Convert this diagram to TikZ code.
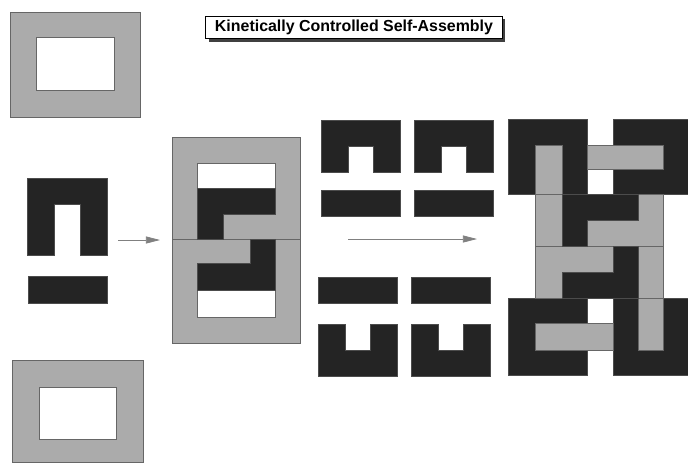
\documentclass[tikz,border=0pt]{standalone}
\usepackage{fontspec}
\newfontfamily\helv{Liberation Sans}
\usetikzlibrary{positioning}
\usetikzlibrary{arrows.meta}
\usetikzlibrary{shadows}

\tikzset{
  cinza/.style={fill=black!33, draw=black!60, line width=0.4pt},
  preto/.style={fill=black!86, draw=black!70, line width=0.3pt},
  seta/.style={draw=black!50, line width=0.6pt, -{Triangle[length=12pt,width=6pt]}},
}

\begin{document}
\begin{tikzpicture}[x=0.03cm, y=-0.03cm]
        \useasboundingbox (0,0) rectangle (688,463);

        % Título
        \node[draw, fill=white, line width=0.6pt, minimum width=8.9cm, minimum height=0.68cm, inner sep=0pt,
              drop shadow={shadow xshift=2.6pt, shadow yshift=-2.6pt, fill=black!75, opacity=1}] (titulo) at (354,27.5)
              {\helv\bfseries\fontsize{13.6}{15}\selectfont Kinetically Controlled Self-Assembly};

        % Molduras cinzas
        \foreach \a/\b/\c/\d/\e/\f/\g/\h in {10/12/140/117/36/37/114/90, 12/360/143/462/39/387/116/439}
        {
        \path[cinza, even odd rule] (\a,\b) rectangle (\c,\d) (\e,\f) rectangle (\g,\h);
        }

        % Peça em U e barra
        \path[preto] (27,178) -- (107,178) -- (107,255) -- (80,255) -- (80,204) -- (54,204) -- (54,255) -- (27,255) -- cycle;
        \path[preto] (28,276) rectangle (107,303);

        \coordinate (s1a) at (118,240);
        \coordinate (s1b) at (160,240);
        \draw[seta] (s1a) -- (s1b);

        % Montagem do meio
        \path[cinza, even odd rule] (172,137) rectangle (300,239) (197,163) rectangle (275,214);
        \path[cinza, even odd rule] (172,239) rectangle (300,343) (197,263) rectangle (275,317);
        \path[preto] (197,188) -- (275,188) -- (275,214) -- (223,214) -- (223,239) -- (197,239) -- cycle;
        \path[preto] (250,239) -- (275,239) -- (275,290) -- (197,290) -- (197,263) -- (250,263) -- cycle;

        % Peças soltas
        \foreach \x in {321,414}
        {
        \path[preto] (\x,120) -- ++(79,0) -- ++(0,52) -- ++(-27,0) -- ++(0,-26) -- ++(-25,0) -- ++(0,26) -- ++(-27,0) -- cycle;
        \path[preto] (\x,190) rectangle ++(79,26);
        }
        \foreach \x in {318,411}
        {
        \path[preto] (\x,277) rectangle ++(79,26);
        \path[preto] (\x,376) -- ++(79,0) -- ++(0,-52) -- ++(-27,0) -- ++(0,26) -- ++(-25,0) -- ++(0,-26) -- ++(-27,0) -- cycle;
        }

        \coordinate (s2a) at (348,239);
        \coordinate (s2b) at (477,239);
        \draw[seta] (s2a) -- (s2b);

        % Montagem final
        \foreach \x/\y/\w/\h in {508/119/79/75, 613/119/75/75, 508/298/79/77, 613/298/75/77}
        {
        \path[preto] (\x,\y) rectangle ++(\w,\h);
        }
        \path[cinza] (535,194) rectangle (663,246);
        \path[cinza] (535,246) rectangle (663,298);
        \path[cinza] (535,145) rectangle (562,194);
        \path[cinza] (587,145) rectangle (663,169);
        \path[cinza] (638,298) rectangle (663,350);
        \path[cinza] (535,323) rectangle (613,350);
        \path[preto] (562,194) -- (638,194) -- (638,220) -- (587,220) -- (587,246) -- (562,246) -- cycle;
        \path[preto] (613,246) -- (638,246) -- (638,298) -- (562,298) -- (562,272) -- (613,272) -- cycle;
    \end{tikzpicture}
\end{document}
